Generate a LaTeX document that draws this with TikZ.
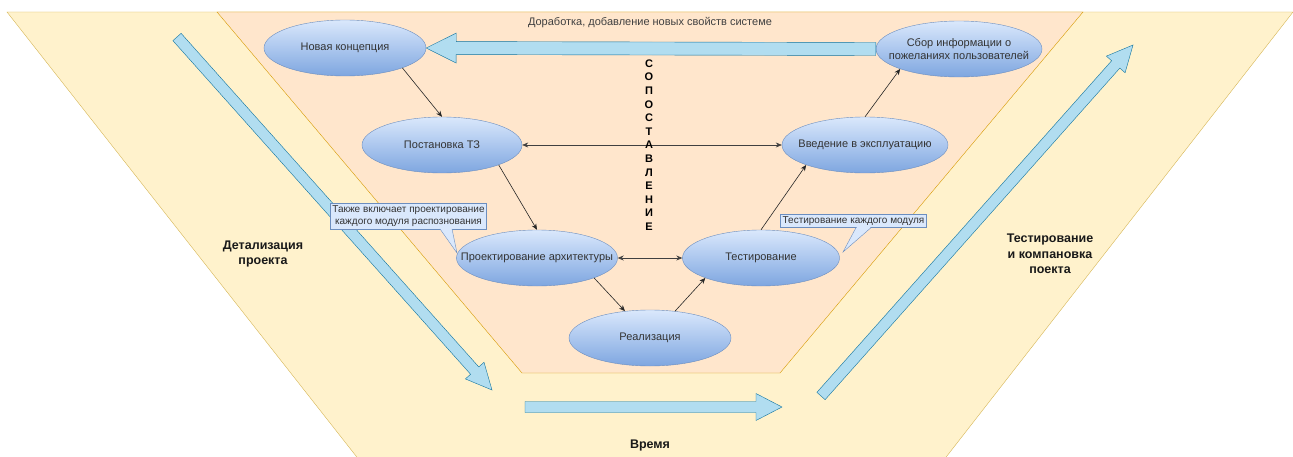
\documentclass[tikz,border=0pt]{standalone}
\usepackage{fontspec}
\setmainfont{Liberation Sans}
\usepackage{xcolor}
\usepackage{tikz}
\usetikzlibrary{arrows.meta,calc,shapes.geometric}

\definecolor{bandfill}{HTML}{FFF2CC}
\definecolor{bandline}{HTML}{D6B656}
\definecolor{corefill}{HTML}{FFE6CC}
\definecolor{coreline}{HTML}{D79B00}
\definecolor{arrfill}{HTML}{B1DDF0}
\definecolor{arrline}{HTML}{10739E}
\definecolor{elltop}{HTML}{DAE8FC}
\definecolor{ellbot}{HTML}{7EA6E0}
\definecolor{ellline}{HTML}{6C8EBF}

% block arrow: from, to, shaft half width, head half width, head length
\newcommand{\flowarrow}[5]{%
  \path ($(#2)!#5!(#1)$) coordinate (fa-base);
  \draw[blockarr] ($(#1)!#3!90:(#2)$) -- ($(fa-base)!#3!90:(#2)$) -- ($(fa-base)!#4!90:(#2)$) -- (#2) -- ($(fa-base)!#4!-90:(#2)$) -- ($(fa-base)!#3!-90:(#2)$) -- ($(#1)!#3!-90:(#2)$) -- cycle;}

\begin{document}
\begin{tikzpicture}[x=1pt, y=-1pt,
  stage/.style={ellipse, draw=ellline, top color=elltop, bottom color=ellbot, inner sep=0pt, minimum width=162pt, minimum height=56pt, label={[stagetext]center:{#1}}},
  stagetext/.style={align=center, inner sep=0pt, text=black!80, font=\fontsize{11}{13}\selectfont},
  conn/.style={-{Stealth[length=6pt, width=5pt]}, black!85, semithick},
  both/.style={{Stealth[length=6pt, width=5pt]}-{Stealth[length=6pt, width=5pt]}, black!75, semithick},
  blockarr/.style={draw=arrline, fill=arrfill, line join=miter},
  note/.style={draw=ellline, fill=elltop, inner sep=2pt, align=center, text=black!80, font=\fontsize{10}{12.5}\selectfont},
  notetip/.style={draw=ellline, fill=elltop, line join=miter},
  phase/.style={align=center, text=black!90, font=\fontsize{12.5}{15.5}\selectfont\bfseries}
]
\useasboundingbox (0,0) rectangle (1293,457);
\filldraw[fill=bandfill, draw=bandline] (7,12) -- (1293,12) -- (936,470) -- (367,470) -- cycle;
\filldraw[fill=corefill, draw=coreline] (217,12) -- (1083,12) -- (780,373) -- (522,373) -- cycle;

\coordinate (dnS) at (177,37); \coordinate (dnE) at (492,390);
\coordinate (tmS) at (525,407); \coordinate (tmE) at (782,407);
\coordinate (upS) at (821,396); \coordinate (upE) at (1133,45);
\flowarrow{dnS}{dnE}{5.5pt}{12.5pt}{26pt}
\flowarrow{tmS}{tmE}{5.5pt}{13.5pt}{26pt}
\flowarrow{upS}{upE}{5.5pt}{12.5pt}{26pt}

\node[stage={Новая концепция}] (nov) at (345,48) {};
\node[stage={Постановка ТЗ}, minimum width=160pt] (post) at (442,145) {};
\node[stage={Проектирование архитектуры}, minimum width=161pt] (proj) at (537,258) {};
\node[stage={Реализация}] (real) at (650,338) {};
\node[stage={Тестирование}, minimum width=157pt] (test) at (761,258) {};
\node[stage={Введение в эксплуатацию}, minimum width=166pt] (vved) at (865,145) {};
\node[stage={Сбор информации о\\пожеланиях пользователей}, minimum width=166pt] (sbor) at (959,49) {};
\flowarrow{sbor.west}{nov.east}{6.5pt}{15pt}{30pt}

\draw[conn] (nov.south east) -- (post.north); \draw[conn] (post.south east) -- (proj.north); \draw[conn] (proj.south east) -- (real.133);
\draw[conn] (real.47) -- (test.south west); \draw[conn] (test.north) -- (vved.south west); \draw[conn] (vved.north) -- (sbor.south west);
\draw[both] (post.east) -- (vved.west); \draw[both] (proj.east) -- (test.west);

\node[text=black!75, font=\fontsize{11}{13}\selectfont] (dorab) at (650,23) {Доработка, добавление новых свойств системе};
\node[align=center, text=black, inner sep=0pt, font=\fontsize{11}{13.6}\selectfont\bfseries] (sopost) at (649,145) {С\\О\\П\\О\\С\\Т\\А\\В\\Л\\Е\\Н\\И\\Е};
\node[phase] (detal) at (263,254) {Детализация\\проекта};
\node[phase] (sborka) at (1050,254) {Тестирование\\и компановка\\поекта};
\node[phase] (vremya) at (650,445) {Время};

\node[note] (note1) at (408.5,216) {Также включает проектирование\\каждого модуля распознования};
\draw[notetip] ([xshift=31.5pt]note1.south) -- (457,253) -- ([xshift=43.5pt]note1.south);
\draw[elltop, line width=1pt] ([xshift=32.5pt]note1.south) -- ([xshift=42.5pt]note1.south);
\node[note] (note2) at (853.5,221) {Тестирование каждого модуля};
\draw[notetip] ([xshift=2.5pt]note2.south) -- (843,252) -- ([xshift=17.5pt]note2.south);
\draw[elltop, line width=1pt] ([xshift=3.5pt]note2.south) -- ([xshift=16.5pt]note2.south);
\end{tikzpicture}
\end{document}
